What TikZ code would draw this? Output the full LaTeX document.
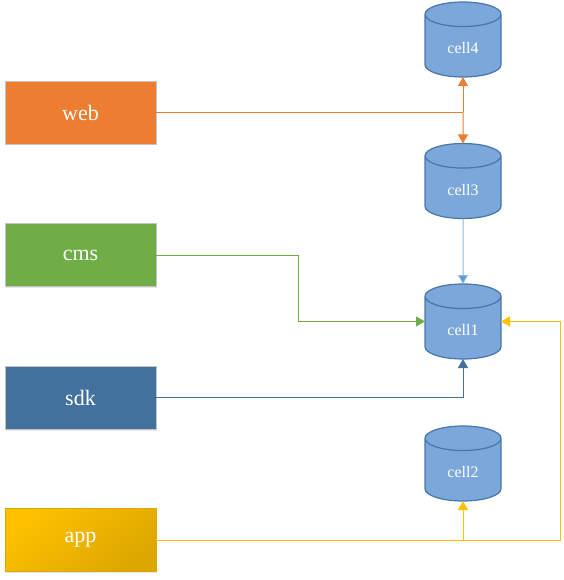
\documentclass[tikz,border=0pt]{standalone}
\usepackage{fontspec}
\setmainfont{Liberation Serif}
\usetikzlibrary{shapes.geometric, arrows.meta, positioning, shadows}

\definecolor{webc}{HTML}{ED7D31}
\definecolor{cmsc}{HTML}{70AD47}
\definecolor{sdkc}{HTML}{41719C}
\definecolor{appa}{HTML}{FFC000}
\definecolor{appb}{HTML}{DCA700}
\definecolor{cellc}{HTML}{7BA7DA}
\definecolor{celledge}{HTML}{4676AA}
\definecolor{cellline}{HTML}{8DB8E2}
\definecolor{celltip}{HTML}{5B9BD5}
\definecolor{boxedge}{HTML}{C4C4C4}

\tikzset{
  client/.style={draw=boxedge, minimum width=151pt, minimum height=63pt,
    text=white, font=\fontsize{22}{26}\selectfont, outer sep=0pt,
    drop shadow={shadow xshift=1pt, shadow yshift=-1.5pt, opacity=0.2}},
  cell/.style={cylinder, shape border rotate=90, aspect=0.65, draw=celledge,
    fill=cellc, line width=1.2pt, minimum width=76pt, minimum height=75pt,
    anchor=shape center, text=white, font=\fontsize{16}{19}\selectfont, outer sep=0pt},
  link/.style={line width=1pt, -{Triangle[length=9pt,width=10pt]}},
}

\begin{document}
\begin{tikzpicture}[x=1pt,y=-1pt]
\useasboundingbox (0,0) rectangle (563,580);

% clients on the left
\node[client, fill=webc] (web) at (80.5,112.5) {web};
\node[client, fill=cmsc] (cms) at (80.5,255) {cms};
\node[client, fill=sdkc] (sdk) at (80.5,397.5) {sdk};
\node[client, draw=appb, top color=appa, bottom color=appb, shading angle=40] (app) at (80.5,540) {app};

% cells on the right
\node[cell] (cell4) at (463,39.5) {cell4};
\node[cell] (cell3) at (463,181) {cell3};
\node[cell] (cell1) at (463,321.5) {cell1};
\node[cell] (cell2) at (463,463.5) {cell2};

% web goes to cell4 and cell3
\coordinate (webjoin) at (cell4.south |- web.east);
\draw[webc, line width=1pt] (web.east) -- (webjoin);
\draw[link, webc] (webjoin) -- (cell4.south);
\draw[link, webc] (webjoin) -- (cell3.north);

% cell3 to cell1
\draw[link, cellline, -{Triangle[length=9pt,width=10pt,fill=celltip]}] (cell3.south) -- (cell1.north);

% cms and sdk to cell1
\draw[link, cmsc] (cms.east) -- ++(142,0) |- (cell1.west |- cell1.shape center);
\draw[link, sdkc] (sdk.east) -| (cell1.south);

% app to cell2 and cell1
\coordinate (appturn) at (560,540);
\draw[link, appa] (app.east) -| (cell2.south);
\draw[link, appa] (app.east) -- (appturn) |- (cell1.east |- cell1.shape center);

\end{tikzpicture}
\end{document}
